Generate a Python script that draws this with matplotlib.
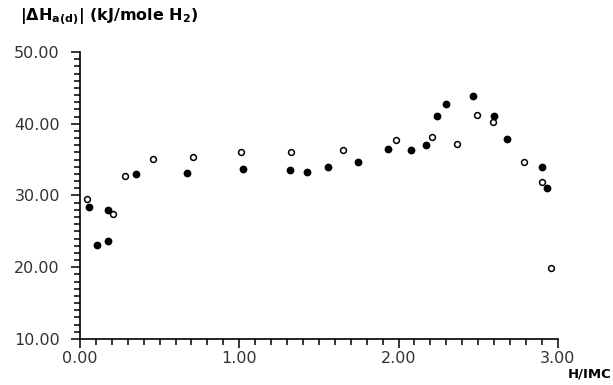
import matplotlib.pyplot as plt
from matplotlib.ticker import MultipleLocator, FormatStrFormatter

# filled circles
x_filled = [0.056, 0.105, 0.176, 0.176, 0.352, 0.674, 1.021, 1.32, 1.427, 1.559,
            1.745, 1.931, 2.08, 2.17, 2.24, 2.30, 2.47, 2.60, 2.68, 2.90, 2.93]
y_filled = [28.4, 23.1, 28.0, 23.7, 33.0, 33.2, 33.7, 33.6, 33.3, 34.0,
            34.6, 36.5, 36.4, 37.0, 41.1, 42.8, 43.9, 41.1, 37.9, 33.9, 31.1]

# open circles
x_open = [0.046, 0.205, 0.285, 0.46, 0.711, 1.011, 1.327, 1.653, 1.982, 2.21,
          2.37, 2.49, 2.59, 2.79, 2.90, 2.955]
y_open = [29.5, 27.4, 32.7, 35.1, 35.3, 36.0, 36.1, 36.3, 37.7, 38.1,
          37.2, 41.2, 40.3, 34.6, 31.9, 19.9]

plt.rcParams['mathtext.fontset'] = 'custom'
plt.rcParams['mathtext.rm'] = 'DejaVu Sans:bold'
plt.rcParams['mathtext.it'] = 'DejaVu Sans:bold'
plt.rcParams['mathtext.bf'] = 'DejaVu Sans:bold'

fig = plt.figure(figsize=(6.13, 3.85), dpi=100)
ax = fig.add_axes([0.1305, 0.1195, 0.7795, 0.7455])

ax.plot(x_filled, y_filled, 'o', color='black', markersize=4.6, linestyle='none')
ax.plot(x_open, y_open, 'o', markerfacecolor='white', markeredgecolor='black',
        markersize=4.2, markeredgewidth=1.1, linestyle='none')

ax.set_xlim(0, 3)
ax.set_ylim(10, 50)

for s in ['top', 'right']:
    ax.spines[s].set_visible(False)
for s in ['left', 'bottom']:
    ax.spines[s].set_linewidth(1.2)

ax.xaxis.set_major_locator(MultipleLocator(1))
ax.xaxis.set_minor_locator(MultipleLocator(0.1))
ax.yaxis.set_major_locator(MultipleLocator(10))
ax.yaxis.set_minor_locator(MultipleLocator(1))
ax.xaxis.set_major_formatter(FormatStrFormatter('%.2f'))
ax.yaxis.set_major_formatter(FormatStrFormatter('%.2f'))
ax.tick_params(which='major', direction='out', length=6.5, width=1.1,
               labelsize=11.5, labelcolor='#333333')
ax.tick_params(axis='x', which='major', pad=2)
ax.tick_params(axis='y', which='major', pad=8)
ax.tick_params(which='minor', direction='out', length=4.3, width=1.1)

fig.text(0.033, 0.955, r'$|\Delta$H$_{a(d)}$| (kJ/mole H$_2$)',
         fontsize=11.5, fontweight='bold', ha='left', va='center')
fig.text(0.998, 0.028, 'H/IMC', fontsize=9.5, fontweight='bold',
         ha='right', va='center')

fig.savefig('out.png', dpi=100)
